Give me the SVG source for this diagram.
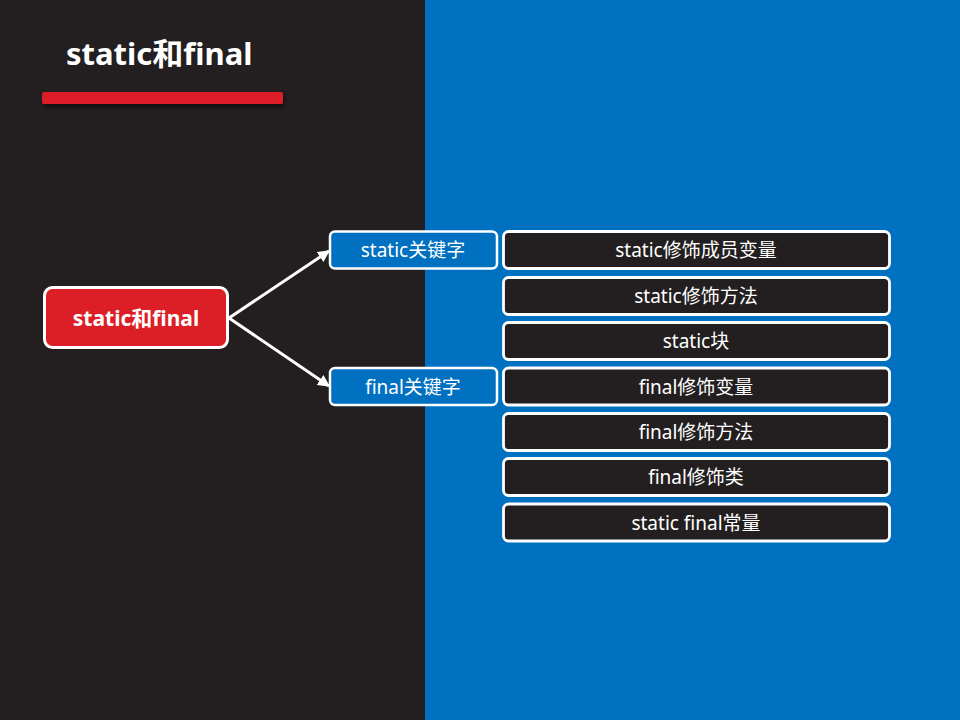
<svg xmlns="http://www.w3.org/2000/svg" width="960" height="720" viewBox="0 0 960 720">
<style>
text{font-family:"Noto Sans","Noto Sans CJK SC",sans-serif;fill:#fff;text-anchor:middle;dominant-baseline:central}
.title{font-size:31px;font-weight:bold;text-anchor:start}
.main{fill:#dc1f26;stroke:#fff;stroke-width:3}
.key{fill:#0070c0;stroke:#fff;stroke-width:2.5}
.item{fill:#231f20;stroke:#fff;stroke-width:2.8}
.t18{font-size:19px}
.conn{stroke:#fff;stroke-width:3;fill:none;marker-end:url(#arr)}
</style>
<defs>
<marker id="arr" viewBox="0 0 10 10" refX="9" refY="5" markerWidth="4" markerHeight="4" orient="auto" markerUnits="strokeWidth">
<path d="M0,0 L10,5 L0,10 z" fill="#fff"/>
</marker>
<filter id="sh" x="-10%" y="-50%" width="120%" height="250%">
<feDropShadow dx="1" dy="3" stdDeviation="2" flood-color="#000" flood-opacity="0.6"/>
</filter>
</defs>
<rect x="0" y="0" width="425" height="720" fill="#231f20"/>
<rect x="425" y="0" width="535" height="720" fill="#0070c0"/>
<g id="title">
<text class="title" x="66" y="53">static和final</text>
<rect x="42" y="92" width="241" height="12" rx="2" fill="#dc1f26" filter="url(#sh)"/>
</g>
<g id="connectors">
<line class="conn" x1="229" y1="318" x2="329" y2="251"/>
<line class="conn" x1="229" y1="318" x2="329" y2="386"/>
</g>
<g id="main"><rect class="main" x="44.5" y="287.5" width="183" height="60" rx="8"/><text x="136" y="318" font-size="21" font-weight="bold">static和final</text></g>
<g id="static-key"><rect class="key" x="330" y="231.5" width="167" height="37" rx="5"/><text class="t18" x="413" y="250">static关键字</text></g>
<g id="final-key"><rect class="key" x="330" y="368" width="167" height="37" rx="5"/><text class="t18" x="413" y="386.5">final关键字</text></g>
<g id="i1"><rect class="item" x="503.5" y="231.5" width="386" height="37" rx="5"/><text class="t18" x="696" y="250">static修饰成员变量</text></g>
<g id="i2"><rect class="item" x="503.5" y="277.5" width="386" height="37" rx="5"/><text class="t18" x="696" y="296">static修饰方法</text></g>
<g id="i3"><rect class="item" x="503.5" y="322.5" width="386" height="37" rx="5"/><text class="t18" x="696" y="341">static块</text></g>
<g id="i4"><rect class="item" x="503.5" y="368" width="386" height="37" rx="5"/><text class="t18" x="696" y="386.5">final修饰变量</text></g>
<g id="i5"><rect class="item" x="503.5" y="413.5" width="386" height="37" rx="5"/><text class="t18" x="696" y="432">final修饰方法</text></g>
<g id="i6"><rect class="item" x="503.5" y="458.5" width="386" height="37" rx="5"/><text class="t18" x="696" y="477">final修饰类</text></g>
<g id="i7"><rect class="item" x="503.5" y="504" width="386" height="37" rx="5"/><text class="t18" x="696" y="522.5">static final常量</text></g>
</svg>
